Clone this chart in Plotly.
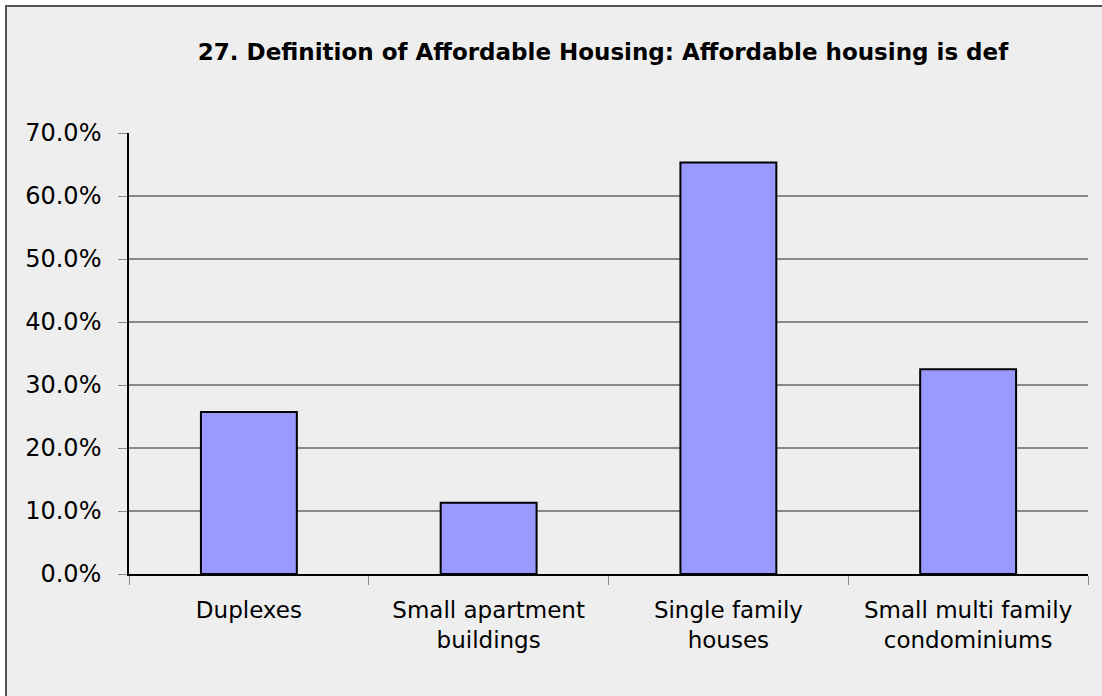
import plotly.graph_objects as go

categories = ["Duplexes", "Small apartment<br>buildings", "Single family<br>houses", "Small multi family<br>condominiums"]
values = [25.7, 11.3, 65.3, 32.5]
title_text = "27. Definition of Affordable Housing: Affordable housing is def"

W, H = 1102, 696
L, R, T, B = 129, 14, 133, 122
pw, ph = W - L - R, H - T - B

def px_x(x):
    return (x - L) / pw

def px_y(y):
    return (H - B - y) / ph

fig = go.Figure()
fig.add_trace(go.Bar(
    x=categories, y=values,
    marker=dict(color="#9999FF", line=dict(color="black", width=2)),
    width=0.4,
))

font_family = "Tahoma, DejaVu Sans, sans-serif"

fig.update_layout(
    width=W, height=H,
    margin=dict(l=L, r=R, t=T, b=B),
    paper_bgcolor="white",
    plot_bgcolor="rgba(0,0,0,0)",
    showlegend=False,
    font=dict(family=font_family, color="black"),
    title=dict(
        text="<b>" + title_text + "</b>",
        x=603 / W, xanchor="center",
        y=1 - 52 / H, yanchor="middle",
        font=dict(size=23, family=font_family, color="black"),
    ),
    xaxis=dict(
        type="category",
        showline=True, linecolor="black", linewidth=1.5,
        ticks="outside", tickson="boundaries", ticklen=9, tickcolor="#888888", tickwidth=1,
        tickfont=dict(size=23, family=font_family, color="black"),
        ticklabelstandoff=15,
        showgrid=False,
        range=[-0.5, 3.5],
    ),
    yaxis=dict(
        range=[0, 70], dtick=10, tick0=0,
        tickformat=".1f", ticksuffix="%",
        showline=True, linecolor="black", linewidth=1.5,
        ticks="outside", ticklen=9, tickcolor="#888888", tickwidth=1,
        showgrid=True, gridcolor="#888888", gridwidth=1.5,
        zeroline=False,
        tickfont=dict(size=24, family=font_family, color="black"),
        ticklabelstandoff=12,
    ),
    shapes=[dict(
        type="rect", xref="paper", yref="paper",
        x0=px_x(6), x1=px_x(W + 20), y0=px_y(H + 20), y1=px_y(6),
        fillcolor="#EEEEEE", line=dict(color="#555555", width=2),
        layer="below",
    )],
)

fig.write_html("out.html", config={"displayModeBar": False},
               post_script="document.body.style.margin='0';")
